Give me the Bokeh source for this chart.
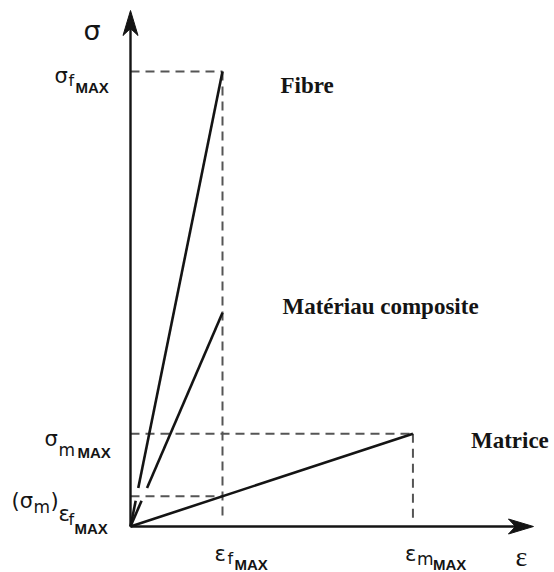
from bokeh.plotting import figure
from bokeh.models import Range1d
from bokeh.core.properties import value
from bokeh.embed import file_html
from bokeh.resources import INLINE

# Stress-strain behaviour of fibre, matrix and composite (arbitrary units)
eps_f_max = 1.0          # failure strain of the fibre
eps_m_max = 3.07         # failure strain of the matrix
sigma_f_max = 100.0      # failure stress of the fibre
sigma_c_at_ef = 47.0     # composite stress at fibre failure strain
sigma_m_max = 20.4       # failure stress of the matrix
# matrix stress reached when the fibre breaks (linear matrix law)
sigma_m_at_ef = sigma_m_max * eps_f_max / eps_m_max

eps_axis_end = 4.38
sigma_axis_end = 113.4

curve_names = ["Fibre", "Matériau composite", "Matrice"]
curve_eps = [eps_f_max, eps_f_max, eps_m_max]
curve_sigma = [sigma_f_max, sigma_c_at_ef, sigma_m_max]

# page geometry
W, H = 554, 572
ORIGIN_X, ORIGIN_Y = 130, 526
PX_EPS = 92.0
PX_SIG = 4.55

ink = "#141414"
dash_col = "#555555"
SYM = "DejaVu Sans"

p = figure(width=W, height=H, output_backend="svg", toolbar_location=None,
           x_range=Range1d(-ORIGIN_X / PX_EPS, (W - ORIGIN_X) / PX_EPS),
           y_range=Range1d(-(H - ORIGIN_Y) / PX_SIG, ORIGIN_Y / PX_SIG),
           min_border=0, title=None)
p.axis.visible = False
p.grid.visible = False
p.outline_line_color = None
p.background_fill_color = "white"
p.border_fill_color = "white"

# dashed guide lines (vertical ones stop just above the strain axis)
stop = 8 / PX_SIG
dash_x = [[0, eps_f_max], [eps_f_max, eps_f_max], [0, eps_m_max],
          [eps_m_max, eps_m_max], [0, eps_f_max]]
dash_y = [[sigma_f_max, sigma_f_max], [sigma_f_max, stop], [sigma_m_max, sigma_m_max],
          [sigma_m_max, stop], [sigma_m_at_ef, sigma_m_at_ef]]
p.multi_line(dash_x, dash_y, line_color=dash_col, line_width=2, line_dash="9 6")

# fibre and composite lines, interrupted where they cross the lower guide
gap_lo = sigma_m_at_ef - 1.0
gap_hi = sigma_m_at_ef + 1.8
for e, s in zip(curve_eps[:2], curve_sigma[:2]):
    p.multi_line([[0, e * gap_lo / s], [e * gap_hi / s, e]],
                 [[0, gap_lo], [gap_hi, s]],
                 line_color=ink, line_width=2.6)
# matrix line
p.line([0, curve_eps[2]], [0, curve_sigma[2]], line_color=ink, line_width=2.6)

# axes with arrow heads
p.multi_line([[0, 0], [0, eps_axis_end - 10 / PX_EPS]],
             [[0, sigma_axis_end - 10 / PX_SIG], [0, 0]],
             line_color=ink, line_width=2.4)

L, HW, N = 25.0, 7.5, 7.0
head_x = [
    [0, -HW / PX_EPS, 0, HW / PX_EPS],
    [eps_axis_end, eps_axis_end - L / PX_EPS, eps_axis_end - (L - N) / PX_EPS,
     eps_axis_end - L / PX_EPS],
]
head_y = [
    [sigma_axis_end, sigma_axis_end - L / PX_SIG, sigma_axis_end - (L - N) / PX_SIG,
     sigma_axis_end - L / PX_SIG],
    [0, HW / PX_SIG, 0, -HW / PX_SIG],
]
p.patches(head_x, head_y, fill_color=ink, line_color=ink, line_width=1)


def put(x, y, txt, dx, dy, size, style="normal", font=SYM):
    p.text(x=[x], y=[y], text=[txt], x_offset=dx, y_offset=dy,
           text_font=value(font), text_font_size=f"{size}px",
           text_font_style=style, text_baseline="alphabetic",
           text_align="left", text_color=ink)


BOLD_SUB = "Liberation Sans"

# axis titles
put(0, sigma_axis_end, "σ", -47, 20, 27)
put(eps_axis_end, 0, "ε", -18, 30, 28, font="Liberation Serif")

# σ_f MAX
put(0, sigma_f_max, "σ", -76, 4, 21)
put(0, sigma_f_max, "f", -62, 9, 16)
put(0, sigma_f_max, "MAX", -55, 16, 15, "bold", BOLD_SUB)

# σ_m MAX
put(0, sigma_m_max, "σ", -86, 5, 21)
put(0, sigma_m_max, "m", -72, 16, 17)
put(0, sigma_m_max, "MAX", -53, 19, 15, "bold", BOLD_SUB)

# (σ_m) ε_f MAX
put(0, sigma_m_at_ef, "(σ", -119, 5, 21)
put(0, sigma_m_at_ef, "m", -97, 11, 17)
put(0, sigma_m_at_ef, ")", -80, 5, 21)
put(0, sigma_m_at_ef, "ε", -72, 18, 21)
put(0, sigma_m_at_ef, "f", -62, 23, 16)
put(0, sigma_m_at_ef, "MAX", -56, 32, 15, "bold", BOLD_SUB)

# ε_f MAX
put(eps_f_max, 0, "ε", -8, 27, 21)
put(eps_f_max, 0, "f", 5, 32, 16)
put(eps_f_max, 0, "MAX", 12, 38, 15, "bold", BOLD_SUB)

# ε_m MAX
put(eps_m_max, 0, "ε", -8, 27, 21)
put(eps_m_max, 0, "m", 4, 32, 17)
put(eps_m_max, 0, "MAX", 20, 38, 15, "bold", BOLD_SUB)

# curve names
name_offsets = [(58, 14), (60, -6), (58, 7)]
for name, e, s, (dx, dy) in zip(curve_names, curve_eps, curve_sigma, name_offsets):
    put(e, s, name, dx, dy, 23, "bold", font="Liberation Serif")

open("out.html", "w").write(file_html(p, INLINE))
